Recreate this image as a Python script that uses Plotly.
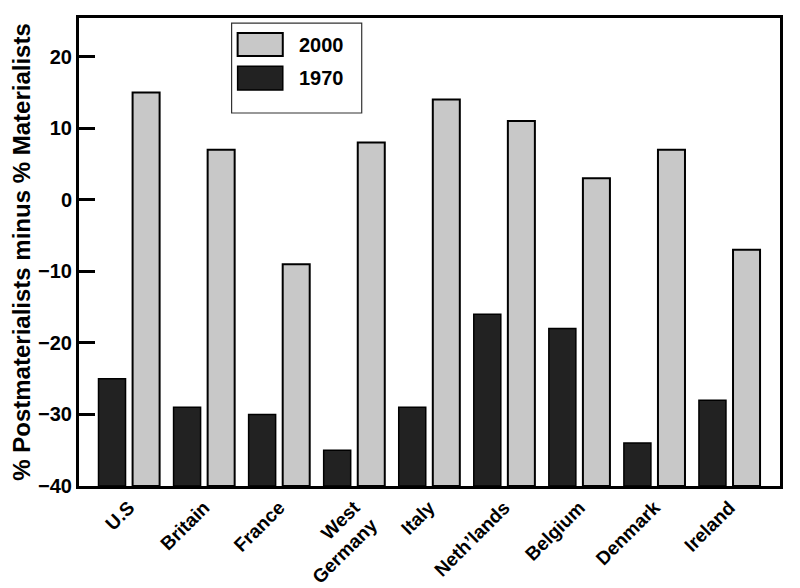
import plotly.graph_objects as go

# ----------------------------------------------------------------------------------------------------------------------
#  DATA
# ----------------------------------------------------------------------------------------------------------------------
countries   = ['U.S', 'Britain', 'France', 'West<br>Germany', 'Italy',
               'Neth\u2019lands', 'Belgium', 'Denmark', 'Ireland']
values_1970 = [-25, -29, -30, -35, -29, -16, -18, -34, -28]
values_2000 = [15, 7, -9, 8, 14, 11, 3, 7, -7]
y_ticks     = [-40, -30, -20, -10, 0, 10, 20]
floor       = -40

# ----------------------------------------------------------------------------------------------------------------------
#  PLOT
# ----------------------------------------------------------------------------------------------------------------------
font_family = 'Liberation Sans, Arial, sans-serif'
dark  = '#222222'
light = '#c8c8c8'

fig = go.Figure()
fig.add_trace(go.Bar(x=countries, y=[v - floor for v in values_1970], base=floor,
                     name='1970', width=0.36, offset=-0.407,
                     marker=dict(color=dark, line=dict(color='black', width=1.5))))
fig.add_trace(go.Bar(x=countries, y=[v - floor for v in values_2000], base=floor,
                     name='2000', width=0.36, offset=0.047,
                     marker=dict(color=light, line=dict(color='black', width=2))))

# legend drawn by hand to get the large swatches
legend_shapes = [
    dict(type='rect', xref='paper', yref='paper', x0=0.2177, x1=0.4033, y0=0.797, y1=0.989,
         line=dict(color='#333333', width=1.2), fillcolor='white'),
    dict(type='rect', xref='paper', yref='paper', x0=0.2263, x1=0.2907, y0=0.919, y1=0.968,
         line=dict(color='black', width=2), fillcolor=light),
    dict(type='rect', xref='paper', yref='paper', x0=0.2263, x1=0.2907, y0=0.846, y1=0.897,
         line=dict(color='black', width=1.5), fillcolor=dark),
]
legend_font = dict(family=font_family, size=20, color='black', weight='bold')
legend_text = [
    dict(text='2000', xref='paper', yref='paper', x=0.311, y=0.943, xanchor='left', yanchor='middle',
         showarrow=False, font=legend_font),
    dict(text='1970', xref='paper', yref='paper', x=0.311, y=0.871, xanchor='left', yanchor='middle',
         showarrow=False, font=legend_font),
]

# the page body adds 8px around the plot, so the figure is 8px smaller
fig.update_layout(
    width=792, height=580,
    margin=dict(l=71, r=20, t=10, b=102),
    paper_bgcolor='white', plot_bgcolor='white',
    barmode='overlay',
    showlegend=False,
    font=dict(family=font_family, color='black'),
    shapes=legend_shapes,
    annotations=legend_text,
)
fig.update_xaxes(
    range=[-0.667, 8.673], automargin=False,
    showline=True, linecolor='black', linewidth=3, mirror=True,
    ticks='', showgrid=False, tickangle=-45,
    tickfont=dict(family=font_family, size=19, color='black', weight='bold'),
)
fig.update_yaxes(
    range=[-40, 25.4], automargin=False,
    tickvals=y_ticks,
    showline=True, linecolor='black', linewidth=3, mirror=True,
    ticks='inside', ticklen=16, tickwidth=2.5, tickcolor='black',
    showgrid=False, zeroline=False,
    tickfont=dict(family=font_family, size=20, color='black', weight='bold'),
    title=dict(text='% Postmaterialists minus % Materialists', standoff=3,
               font=dict(family=font_family, size=24, color='black', weight='bold')),
)

fig.write_html("out.html")
